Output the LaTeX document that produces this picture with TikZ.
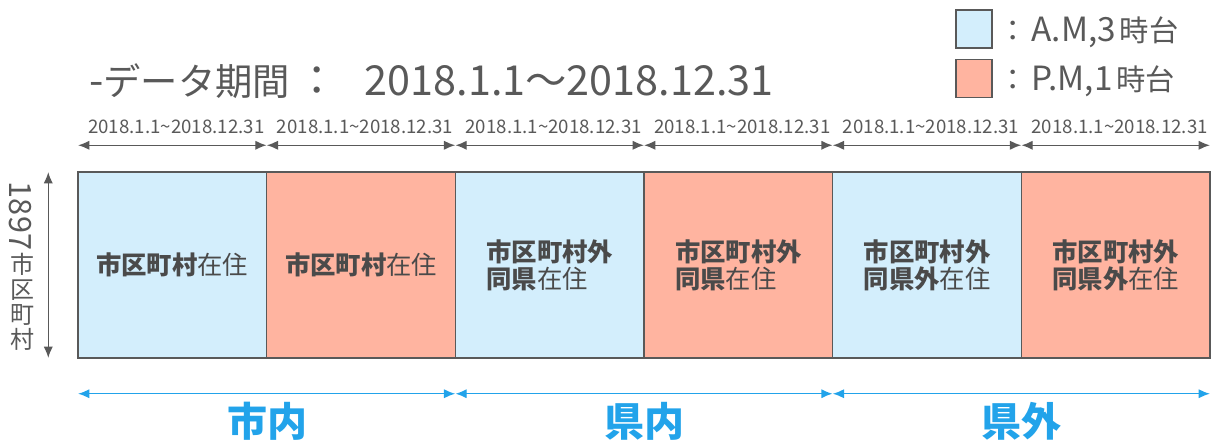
\documentclass[tikz,border=0pt]{standalone}
\usepackage{fontspec}
\setmainfont{Noto Sans CJK JP}
\usetikzlibrary{arrows.meta}
\definecolor{tg}{HTML}{595959}
\definecolor{dg}{HTML}{4A4A4A}
\definecolor{lb}{HTML}{D3EEFC}
\definecolor{sa}{HTML}{FFB4A0}
\definecolor{bl}{HTML}{22A3EA}
\newcommand{\ttlj}{\fontsize{28}{32}\selectfont}
\newcommand{\legj}{\fontsize{22}{24}\selectfont}
\begin{document}
\begin{tikzpicture}[x=0.75pt,y=-0.75pt,
  cell/.style={draw=tg, line width=1.1pt, inner sep=0pt, minimum width=141.5pt,
    minimum height=139.5pt, align=left, text=dg, font=\fontsize{19}{20.25}\selectfont},
  gar/.style={draw=tg, line width=1.1pt, {Latex[length=8.5pt,width=7pt]}-{Latex[length=8.5pt,width=7pt]}, shorten <=0.6pt, shorten >=0.6pt},
  bar/.style={draw=bl, line width=1.1pt, {Latex[length=8.5pt,width=7pt]}-{Latex[length=8.5pt,width=7pt]}, shorten <=0.6pt, shorten >=0.6pt},
  toplab/.style={text=tg, inner sep=0pt, font=\fontsize{14}{16}\selectfont},
  botlab/.style={text=bl, inner sep=0pt, font=\fontsize{30}{34}\selectfont\bfseries},
  legsq/.style={draw=tg, line width=1.1pt, inner sep=0pt, minimum width=27pt, minimum height=28.5pt},
  legtxt/.style={text=tg, inner sep=0pt, anchor=base west, font=\fontsize{25}{28}\selectfont},
]
\useasboundingbox (0,0) rectangle (1221,443);

% title
\node[text=tg, inner sep=0pt, anchor=base west, font=\fontsize{31}{35}\selectfont] (title) at (89,95)
  {-{\ttlj データ期間}\hspace{5pt}：\hspace{20pt}2018.1.1～2018.12.31};

% legend
\node[legsq, fill=lb] (s1) at (974,29) {};
\node[legsq, fill=sa] (s2) at (974,78.5) {};
\node[legtxt] (lt1) at (998,41) {{\legj ：}\hspace{3pt}A.M,3\hspace{3pt}{\legj 時台}};
\node[legtxt] (lt2) at (998,90) {{\legj ：}\hspace{3pt}P.M,1\hspace{3pt}{\legj 時台}};

% cells
\node[cell, fill=lb] (b1) at (172.33,265) {\textbf{市区町村}在住};
\node[cell, fill=sa] (b2) at (361,265) {\textbf{市区町村}在住};
\node[cell, fill=lb] (b3) at (549.67,265) {\textbf{市区町村外}\\\textbf{同県}在住};
\node[cell, fill=sa] (b4) at (738.33,265) {\textbf{市区町村外}\\\textbf{同県}在住};
\node[cell, fill=lb] (b5) at (927,265) {\textbf{市区町村外}\\\textbf{同県外}在住};
\node[cell, fill=sa] (b6) at (1115.67,265) {\textbf{市区町村外}\\\textbf{同県外}在住};

% top period arrows and labels
\foreach \b in {b1,b2,b3,b4,b5,b6}{
  \draw[gar] ([yshift=19.5pt]\b.north west) -- ([yshift=19.5pt]\b.north east);
  \node[toplab, anchor=base] (t\b) at ([xshift=3pt,yshift=28.5pt]\b.north) {2018.1.1\textasciitilde2018.12.31};
}

% vertical arrow and label
\draw[gar] ([xshift=-21.75pt]b1.north west) -- ([xshift=-21.75pt]b1.south west);
\node[text=tg, inner sep=0pt, rotate=-90, font=\fontsize{23}{26}\selectfont] (vn) at (20,216) {1897};
\node[text=tg, inner sep=0pt, align=center, font=\fontsize{18}{18.75}\selectfont] (vk) at (23,302) {市\\区\\町\\村};

% bottom region arrows and labels
\draw[bar] ([yshift=-26.25pt]b1.south west) -- ([yshift=-26.25pt]b2.south east);
\draw[bar] ([yshift=-26.25pt]b3.south west) -- ([yshift=-26.25pt]b4.south east);
\draw[bar] ([yshift=-26.25pt]b5.south west) -- ([yshift=-26.25pt]b6.south east);
\node[botlab] (l1) at (267,421) {市内};
\node[botlab] (l2) at (644,421) {県内};
\node[botlab] (l3) at (1021,421) {県外};
\end{tikzpicture}
\end{document}
